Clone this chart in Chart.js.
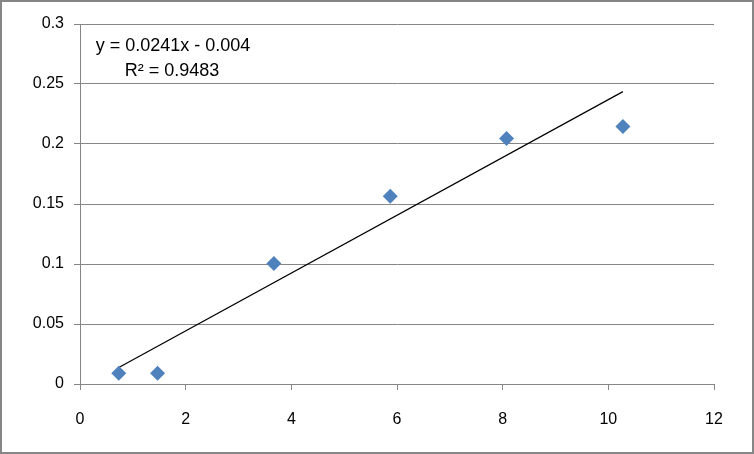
<!DOCTYPE html>
<html>
<head>
<meta charset="utf-8">
<script src="https://cdn.jsdelivr.net/npm/chart.js@4"></script>
<style>
  html, body { margin: 0; padding: 0; background: #fff; }
  #wrap { width: 754px; height: 454px; position: relative; }
</style>
</head>
<body>
<div id="wrap"><canvas id="chart" width="754" height="454"></canvas></div>
<script>
// data
const xValues = [0.734, 1.468, 3.67, 5.872, 8.074, 10.276];
const yValues = [0.009, 0.009, 0.1005, 0.1565, 0.2045, 0.2145];
const xTicks = [0, 2, 4, 6, 8, 10, 12];
const yTicks = [0, 0.05, 0.1, 0.15, 0.2, 0.25, 0.3];
const trendSlope = 0.0241;
const trendIntercept = -0.004;
const equationLines = ['y = 0.0241x - 0.004', 'R\u00B2 = 0.9483'];

const gridGray = '#868686';
const fontFamily = '"Liberation Sans", Arial, sans-serif';

const points = xValues.map((x, i) => ({ x: x, y: yValues[i] }));
const xMin = Math.min(...xValues);
const xMax = Math.max(...xValues);
const trend = [
    { x: xMin, y: trendSlope * xMin + trendIntercept },
    { x: xMax, y: trendSlope * xMax + trendIntercept }
];

// outer frame + equation text
const decor = {
    id: 'decor',
    beforeDraw(chart) {
        const c = chart.ctx;
        c.save();
        c.fillStyle = '#fff';
        c.fillRect(0, 0, chart.width, chart.height);
        c.strokeStyle = gridGray;
        c.lineWidth = 2;
        c.strokeRect(1, 1, chart.width - 2, chart.height - 2);
        c.restore();
    },
    afterDraw(chart) {
        const c = chart.ctx;
        const a = chart.chartArea;
        c.save();
        c.fillStyle = '#000';
        c.font = '18px ' + fontFamily;
        c.textBaseline = 'middle';
        c.textAlign = 'center';
        c.fillText(equationLines[0], a.left + 93, a.top + 22);
        c.fillText(equationLines[1], a.left + 92, a.top + 47);
        c.restore();
    }
};

new Chart(document.getElementById('chart').getContext('2d'), {
    type: 'scatter',
    data: {
        datasets: [
            {
                data: points,
                pointStyle: 'rectRot',
                pointRadius: 7.5,
                pointHoverRadius: 7.5,
                backgroundColor: '#4F81BD',
                borderColor: '#4F81BD',
                borderWidth: 0,
                order: 1
            },
            {
                data: trend,
                type: 'line',
                showLine: true,
                borderColor: '#000',
                borderWidth: 1.2,
                pointRadius: 0,
                fill: false,
                order: 2
            }
        ]
    },
    options: {
        responsive: false,
        animation: false,
        events: [],
        layout: { padding: { top: 24, right: 40, left: 0, bottom: 0 } },
        plugins: {
            legend: { display: false },
            tooltip: { enabled: false }
        },
        scales: {
            x: {
                type: 'linear',
                min: 0,
                max: 12,
                afterBuildTicks: (s) => { s.ticks = xTicks.map(v => ({ value: v })); },
                afterFit: (s) => { s.height = 70; },
                grid: {
                    drawOnChartArea: false,
                    drawTicks: true,
                    tickLength: 6,
                    color: gridGray,
                    lineWidth: 1
                },
                border: { color: gridGray, width: 1 },
                ticks: {
                    color: '#000',
                    padding: 20,
                    maxRotation: 0,
                    font: { family: fontFamily, size: 16 }
                }
            },
            y: {
                type: 'linear',
                min: 0,
                max: 0.3,
                afterBuildTicks: (s) => { s.ticks = yTicks.map(v => ({ value: v })); },
                afterFit: (s) => { s.width = 80; },
                grid: {
                    drawOnChartArea: true,
                    drawTicks: true,
                    tickLength: 6,
                    color: gridGray,
                    lineWidth: 1
                },
                border: { color: gridGray, width: 1 },
                ticks: {
                    color: '#000',
                    padding: 10,
                    font: { family: fontFamily, size: 16 },
                    callback: (v) => String(v)
                }
            }
        }
    },
    plugins: [decor]
});
</script>
</body>
</html>
